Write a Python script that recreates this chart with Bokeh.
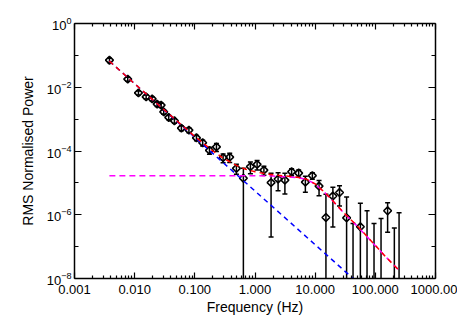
from bokeh.plotting import figure
from bokeh.models import (LogAxis, FixedTicker, CustomJSTickFormatter, ColumnDataSource,
                          Range1d)
from bokeh.embed import file_html
from bokeh.resources import INLINE

# ---------------- data ----------------
freq_hz = [0.00381, 0.00767, 0.01156, 0.01552, 0.01954, 0.02366, 0.02754, 0.0304, 0.0368,
           0.0458, 0.0598, 0.0798, 0.1064, 0.135, 0.175, 0.2287, 0.295, 0.380, 0.491, 0.641,
           0.839, 1.084, 1.406, 1.85, 2.42, 3.14, 4.06, 5.32, 6.87, 8.98, 11.6, 15.1, 19.7,
           25.4, 33.3, 42.6, 56.4, 72.8, 95.1, 124.4, 160.0, 207.0, 248.0]
rms_power = [0.0707, 0.0180, 0.00668, 0.00500, 0.00433, 0.00295, 0.00275, 0.00169, 0.00113,
             0.000885, 0.000522, 0.000452, 0.000259, 0.000181, 0.0001045, 0.0001345, 6.2e-5,
             6.44e-5, 2.85e-5, 1.4e-5, 3.24e-5, 3.80e-5, 2.52e-5, 1.02e-5, 1.32e-5, 1.22e-5,
             2.23e-5, 2.03e-5, 1.06e-5, 1.69e-5, 7.94e-6, 8.17e-7, 3.86e-6, 4.97e-6, 8.0e-7,
             5e-9, 4.2e-7, 5e-9, 5e-9, 5e-9, 1.33e-6, 5e-9, 5e-9]
power_err = [0.0106, 0.0027, 0.0010, 0.00075, 0.00065, 0.00045, 0.00042, 0.00026, 0.00018,
             0.00014, 0.00009, 0.00008, 5e-5, 3.8e-5, 2.6e-5, 3.8e-5, 1.9e-5, 2.1e-5, 1.0e-5,
             1.5e-5, 1.3e-5, 1.27e-5, 8e-6, 1.0e-5, 7.5e-6, 7.7e-6, 5.5e-6, 5.2e-6, 5.5e-6,
             3.9e-6, 4.0e-6, 3.6e-6, 3.45e-6, 3.1e-6, 2.8e-6, 5.3e-7, 1.86e-6, 1.33e-6, 5.3e-7,
             7.6e-7, 1.05e-6, 3.8e-7, 1.16e-6]

# total model (red)
total_freq = [0.0038, 0.01, 0.03, 0.1, 0.2, 0.3, 0.5, 0.7, 1, 1.5, 2, 3, 5, 7, 10, 15, 20,
              30, 50, 100, 150, 250]
total_power = [0.0658, 0.0129, 2.05e-3, 2.85e-4, 1.00e-4, 5.89e-5, 3.46e-5, 2.68e-5, 2.23e-5,
               1.93e-5, 1.80e-5, 1.66e-5, 1.51e-5, 1.33e-5, 9.3e-6, 4.66e-6, 2.64e-6, 1.15e-6,
               4.5e-7, 1.09e-7, 4.7e-8, 1.78e-8]
# power-law component (blue)
plaw_freq = [0.0038, 250]
plaw_power = [0.0658, 5.1e-10]
# flat / Lorentzian component (magenta)
lor_freq = [0.0038, 1, 2, 3, 5, 7, 10, 15, 20, 30, 50, 100, 150, 250]
lor_power = [1.67e-5, 1.67e-5, 1.63e-5, 1.57e-5, 1.47e-5, 1.31e-5, 9.2e-6, 4.6e-6, 2.6e-6,
             1.13e-6, 4.4e-7, 1.07e-7, 4.7e-8, 1.78e-8]

x_ticks = [0.001, 0.01, 0.1, 1, 10, 100, 1000]
x_tick_labels = ["0.001", "0.010", "0.100", "1.000", "10.000", "100.000", "1000.00"]
x_minor = [m * t for t in x_ticks[:-1] for m in range(2, 10)]
y_ticks = [1e0, 1e-2, 1e-4, 1e-6, 1e-8]
y_minor = [1e-1, 1e-3, 1e-5, 1e-7]

FONT = "Liberation Sans"

# ---------------- figure ----------------
p = figure(width=457, height=326, x_axis_type="log", y_axis_type="log",
           x_range=Range1d(1e-3, 1e3), y_range=Range1d(1e-8, 1),
           output_backend="svg", toolbar_location=None,
           min_border_left=74, min_border_right=22, min_border_top=23, min_border_bottom=48)
p.outline_line_color = None
p.xgrid.visible = False
p.ygrid.visible = False
p.background_fill_color = "white"
p.border_fill_color = "white"

lower = [pw - e if pw - e > 0 else 1e-12 for pw, e in zip(rms_power, power_err)]
upper = [pw + e for pw, e in zip(rms_power, power_err)]
src = ColumnDataSource(dict(f=freq_hz, p=rms_power, lo=lower, hi=upper))

p.segment(x0="f", y0="lo", x1="f", y1="hi", source=src, line_color="black", line_width=1.5)
p.dash(x="f", y="hi", source=src, size=5, line_color="black", line_width=1.5)
p.dash(x="f", y="lo", source=src, size=5, line_color="black", line_width=1.5)
p.scatter(x="f", y="p", source=src, marker="square", angle=0.785398, size=5.5,
          line_color="black", line_width=1.6, fill_alpha=0)

p.line(plaw_freq, plaw_power, line_color="#0000ff", line_width=1.5, line_dash="5 4")
p.line(lor_freq, lor_power, line_color="#ff00ff", line_width=1.5, line_dash="6 4")
p.line(total_freq, total_power, line_color="#ff0000", line_width=1.5, line_dash="5 4")

xt = FixedTicker(ticks=x_ticks, minor_ticks=x_minor)
yt = FixedTicker(ticks=y_ticks, minor_ticks=y_minor)


def style(ax, major_in, minor_in):
    ax.axis_line_width = 1.5
    ax.axis_line_color = "black"
    ax.major_tick_line_width = 1.2
    ax.minor_tick_line_width = 1.2
    ax.major_tick_in = major_in
    ax.major_tick_out = 0
    ax.minor_tick_in = minor_in
    ax.minor_tick_out = 0
    ax.major_label_text_font = FONT
    ax.major_label_text_font_size = "13px"
    ax.major_label_text_color = "black"
    ax.axis_label_text_font = FONT
    ax.axis_label_text_font_size = "14px"
    ax.axis_label_text_font_style = "normal"
    ax.axis_label_text_color = "black"


xa = p.xaxis[0]
xa.ticker = xt
xa.major_label_overrides = dict(zip(x_ticks, x_tick_labels))
xa.axis_label = "Frequency (Hz)"
style(xa, 6, 3)
xa.major_label_standoff = 6
xa.axis_label_standoff = 2

ya = p.yaxis[0]
ya.ticker = yt
ya.axis_label = "RMS Normalised Power"
style(ya, 7, 4)
ya.major_label_standoff = 3
ya.axis_label_standoff = 8

blank = "return ''"
top = LogAxis(ticker=xt, formatter=CustomJSTickFormatter(code=blank))
style(top, 6, 3)
top.major_label_standoff = 0
top.axis_label_standoff = 0
p.add_layout(top, "above")
right = LogAxis(ticker=yt, formatter=CustomJSTickFormatter(code=blank))
style(right, 7, 4)
right.major_label_standoff = 0
right.axis_label_standoff = 0
p.add_layout(right, "right")

open("out.html", "w").write(file_html(p, INLINE))
